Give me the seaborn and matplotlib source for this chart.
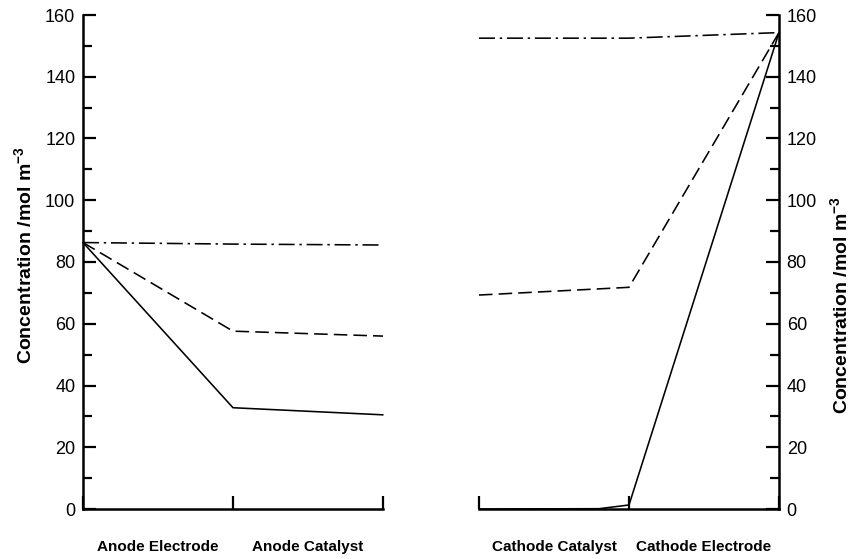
import matplotlib
matplotlib.use("Agg")
import matplotlib.pyplot as plt
import matplotlib.transforms as mtransforms
from matplotlib.ticker import MultipleLocator
import seaborn as sns
import pandas as pd

# ---------------- data ----------------
anode_x = [0.0, 0.5, 1.0]
anode_labels = ["Anode Electrode", "Anode Catalyst"]
anode_solid = [86.3, 32.8, 30.5]
anode_dashed = [86.3, 57.6, 56.0]
anode_dashdot = [86.3, 85.8, 85.5]

cathode_x = [0.0, 0.5, 1.0]
cathode_labels = ["Cathode Catalyst", "Cathode Electrode"]
cathode_solid_x = [0.0, 0.4, 0.5, 1.0]
cathode_solid = [0.0, 0.1, 1.3, 154.3]
cathode_dashed = [69.3, 71.8, 154.3]
cathode_dashdot = [152.5, 152.5, 154.3]

yticks = [0, 20, 40, 60, 80, 100, 120, 140, 160]
ylabel = r"Concentration /mol m$^{\mathbf{-3}}$"

# ---------------- style ----------------
sns.set_style("ticks")
plt.rcParams["font.family"] = ["Liberation Sans", "DejaVu Sans"]
plt.rcParams["mathtext.fontset"] = "custom"
plt.rcParams["mathtext.rm"] = "Liberation Sans"
plt.rcParams["mathtext.bf"] = "Liberation Sans:bold"
plt.rcParams["text.color"] = "black"

fig = plt.figure(figsize=(8.53, 5.59), dpi=100)
W, H = 853, 559
y_bot, y_top = 509, 15
axL = fig.add_axes([83 / W, (H - y_bot) / H, 300 / W, (y_bot - y_top) / H])
axR = fig.add_axes([479 / W, (H - y_bot) / H, 300 / W, (y_bot - y_top) / H])

LW = 1.15
DASH = (8.5, 3.8)
DASHDOT = (10, 3, 1.5, 3)


def draw(ax, x, y, dashes=None):
    df = pd.DataFrame({"x": x, "y": y})
    sns.lineplot(data=df, x="x", y="y", ax=ax, color="black", lw=LW,
                 sort=False, estimator=None, clip_on=False)
    line = ax.lines[-1]
    if dashes is not None:
        line.set_dashes(dashes)


draw(axL, anode_x, anode_solid)
draw(axL, anode_x, anode_dashed, DASH)
draw(axL, anode_x, anode_dashdot, DASHDOT)

draw(axR, cathode_solid_x, cathode_solid)
draw(axR, cathode_x, cathode_dashed, DASH)
draw(axR, cathode_x, cathode_dashdot, DASHDOT)

for ax, labels in ((axL, anode_labels), (axR, cathode_labels)):
    ax.set_xlim(0, 1)
    ax.set_ylim(0, 160)
    ax.set_xlabel("")
    ax.set_ylabel("")
    ax.set_yticks(yticks)
    ax.yaxis.set_minor_locator(MultipleLocator(10))
    ax.set_xticks([0, 0.5, 1.0])
    ax.set_xticklabels([])
    ax.tick_params(axis="both", which="major", direction="in", length=9.5,
                   width=1.6, labelsize=13, color="black", labelcolor="black")
    ax.tick_params(axis="y", which="minor", direction="in", length=6.5,
                   width=1.6, color="black")
    ax.tick_params(axis="x", which="minor", length=0)
    for sp in ax.spines.values():
        sp.set_linewidth(1.8)
        sp.set_color("black")
    trans = mtransforms.blended_transform_factory(ax.transData, ax.transAxes)
    for xc, lab in zip([0.25, 0.75], labels):
        ax.text(xc, -38 / 494, lab, transform=trans, ha="center", va="center",
                fontsize=11, fontweight="bold", color="black")

axL.spines["top"].set_visible(False)
axL.spines["right"].set_visible(False)
axL.tick_params(axis="y", which="major", pad=5.5)
axL.set_ylabel(ylabel, fontsize=14, fontweight="bold", color="black")
axL.yaxis.set_label_coords(-47 / 300, (509 - 255) / 494)

axR.spines["top"].set_visible(False)
axR.spines["left"].set_visible(False)
axR.yaxis.tick_right()
axR.yaxis.set_label_position("right")
axR.tick_params(axis="y", which="both", left=False, right=True)
axR.tick_params(axis="y", which="major", pad=5.5)
axR.set_ylabel(ylabel, fontsize=14, fontweight="bold", rotation=90,
               color="black")
axR.yaxis.set_label_coords(351 / 300, (509 - 305) / 494)

fig.savefig("out.png", dpi=100)
